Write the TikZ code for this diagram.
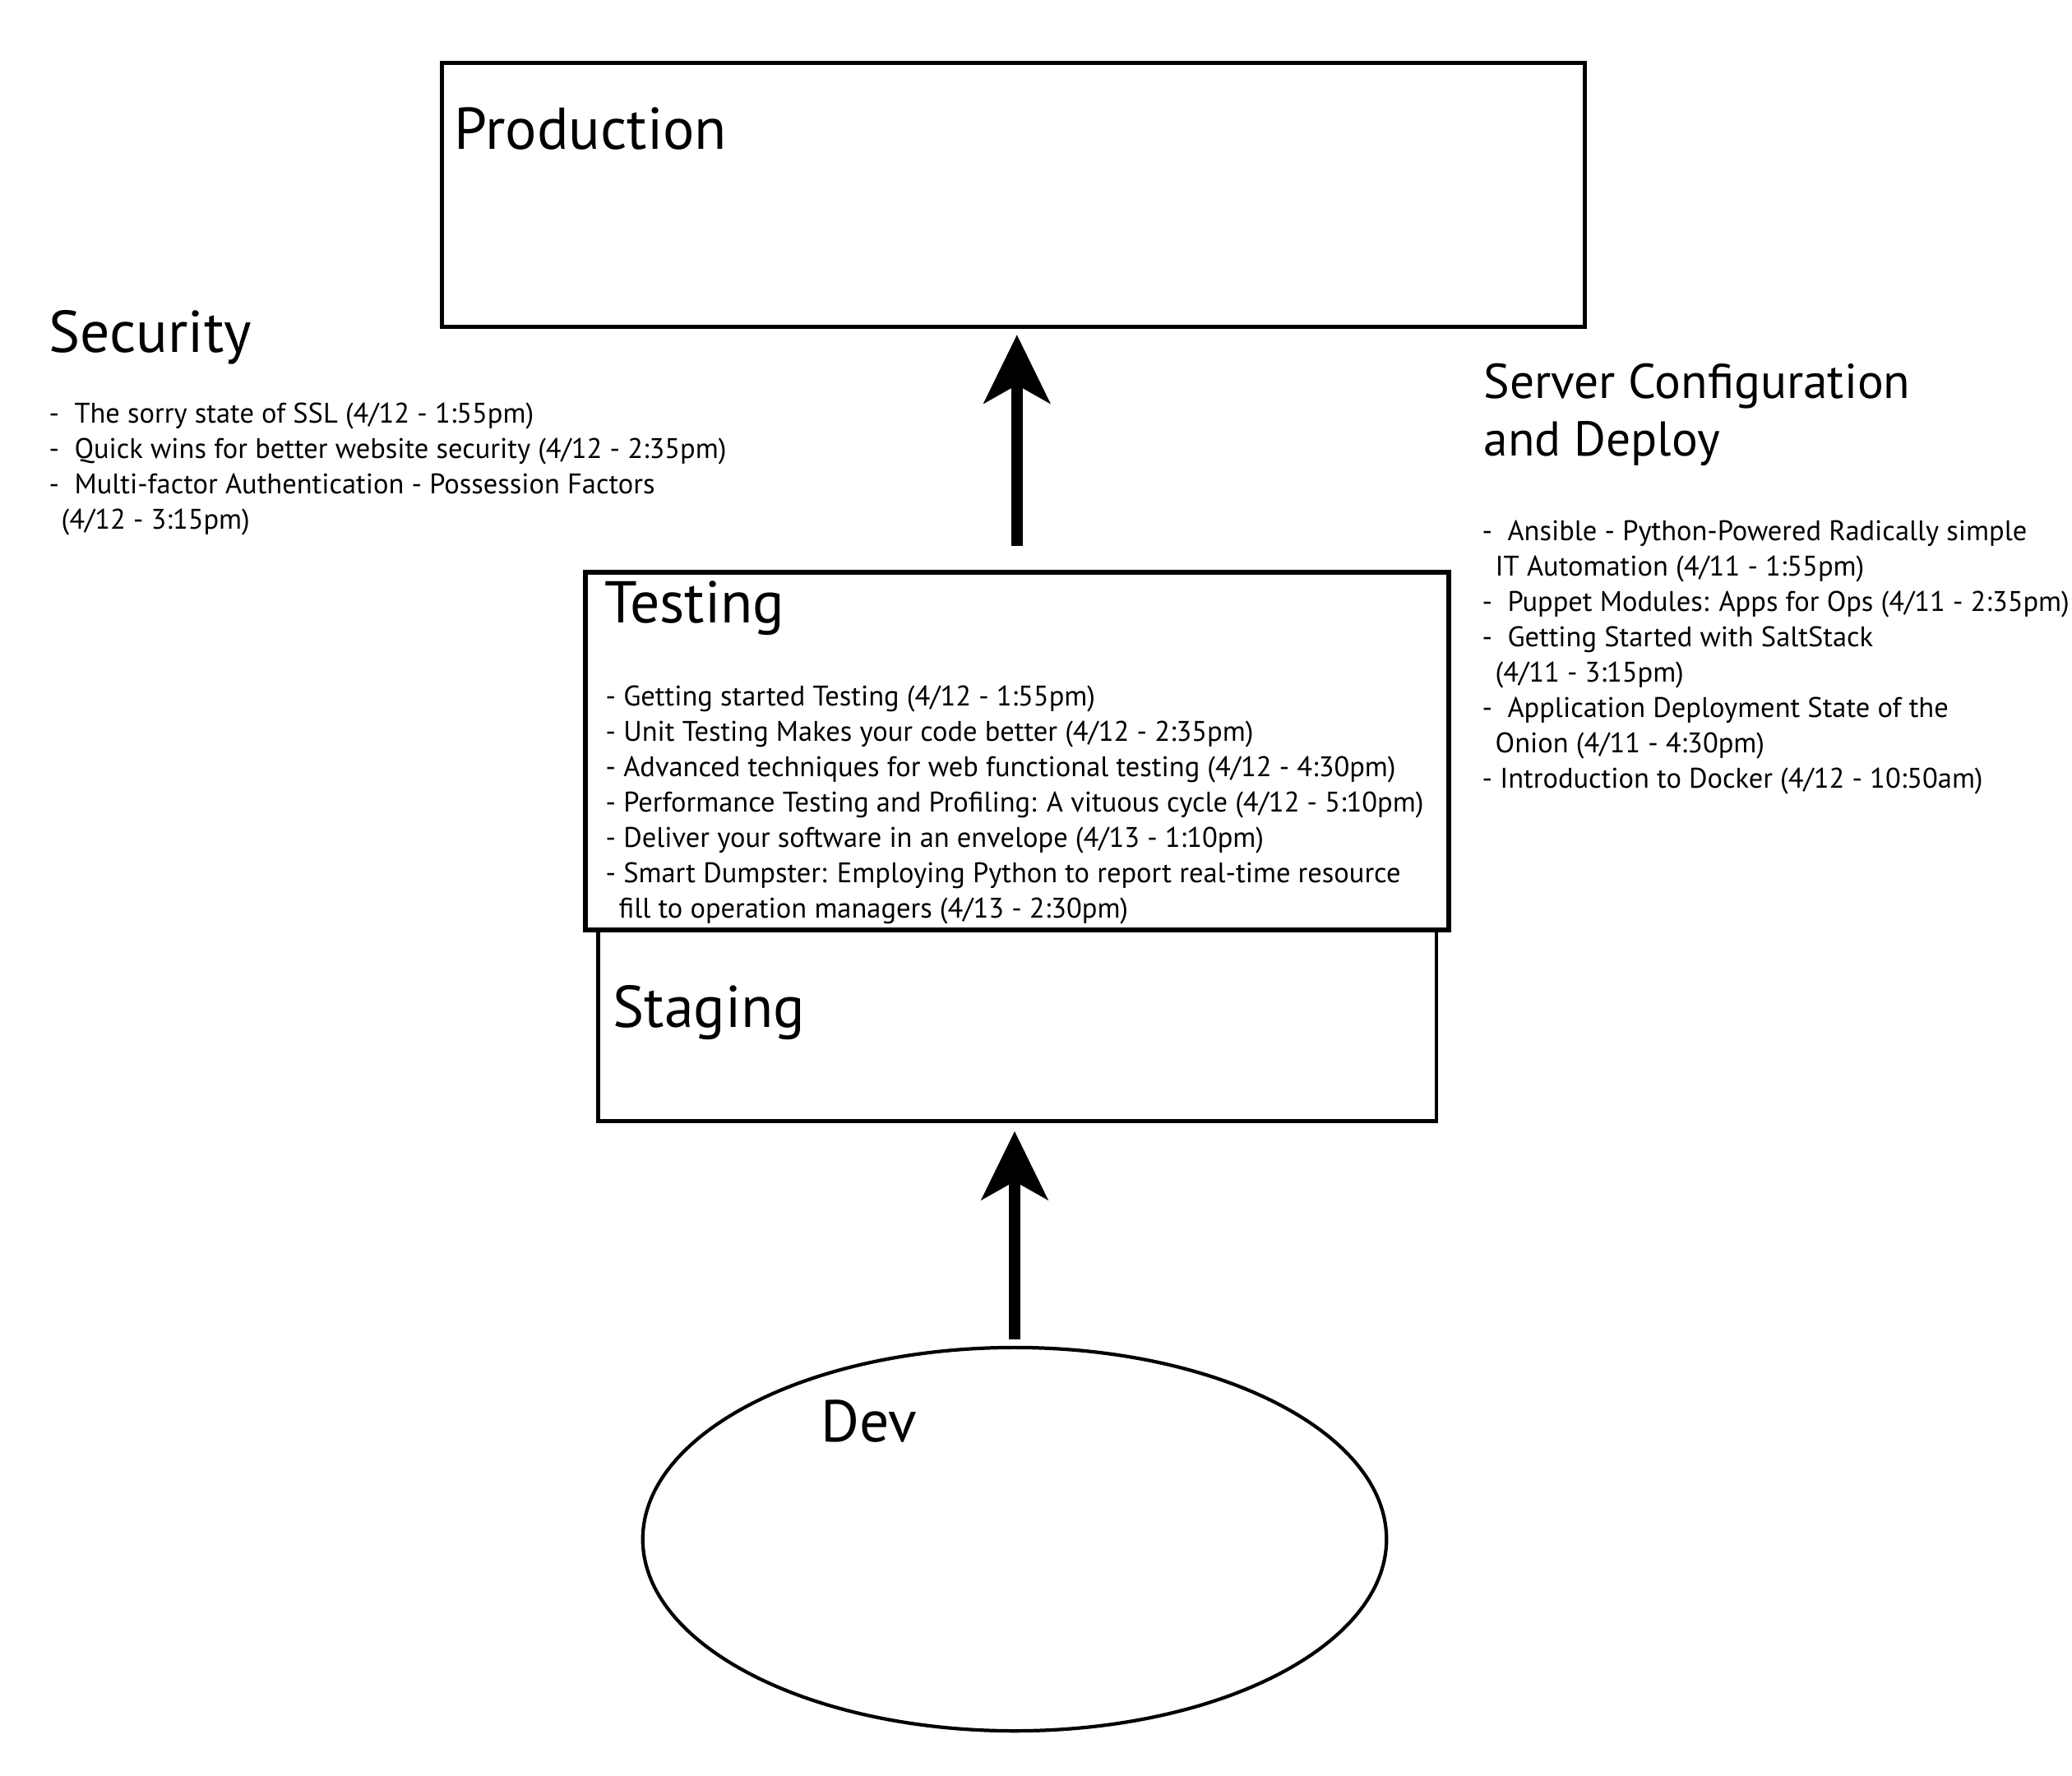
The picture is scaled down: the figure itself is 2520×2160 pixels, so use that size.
\documentclass[tikz,border=0pt]{standalone}
\usepackage{fontspec}
\setmainfont{PT Sans}
\usetikzlibrary{arrows.meta,shapes.geometric,positioning,calc}

\begin{document}
\begin{tikzpicture}[x=0.01cm,y=-0.01cm,>={Stealth[length=0.83cm,width=0.8cm,inset=0.22cm]}]

    % Styles
    \tikzset{
        stage/.style={draw=black, line width=1.4pt, inner sep=0pt, anchor=north west},
        heading/.style={anchor=base west, inner sep=0pt, font=\fontsize{20.4}{24}\selectfont},
        subheading/.style={anchor=base west, inner sep=0pt, font=\fontsize{16.9}{20}\selectfont},
        talk/.style={anchor=base west, inner sep=0pt, font=\fontsize{9.8}{12}\selectfont},
        promote/.style={->, line width=4pt}
    }

    % Page
    \useasboundingbox (0,0) rectangle (2520,2160);

    % Environments
    \node[stage, minimum width=13.89cm, minimum height=3.21cm] (prod) at (535,74) {};
    \node[stage, line width=1.7pt, minimum width=10.49cm, minimum height=4.35cm] (test) at (709,693) {};
    \node[stage, line width=1.3pt, minimum width=10.19cm, minimum height=2.33cm] (stag) at (725,1128) {};
    \node[draw=black, line width=1.2pt, ellipse, minimum width=9.04cm, minimum height=4.66cm] (dev) at (1234,1872) {};

    % Titles
    \node[heading] (prod-t) at (552,181) {Production};
    \node[heading] (test-t) at (735,757) {Testing};
    \node[heading] (stag-t) at (745,1249) {Staging};
    \node[heading] (dev-t) at (998,1753) {Dev};
    \node[heading] (sec-t) at (59,428) {Security};
    \node[subheading] (conf-t) at (1804,484) {Server Configuration};
    \node[subheading] (conf-t2) at (1804,554) {and Deploy};

    % Promotion arrows
    \draw[promote, shorten <=0.29cm, shorten >=0.07cm] (test.north) -- (test.north |- prod.south);
    \draw[promote, shorten <=0.08cm, shorten >=0.1cm] (dev.north) -- (dev.north |- stag.south);

    % Security talks
    \foreach \x/\y/\t [count=\i] in {
        59/514/{-\ \ The sorry state of SSL (4/12 - 1:55pm)},
        59/557/{-\ \ Quick wins for better website security (4/12 - 2:35pm)},
        59/600/{-\ \ Multi-factor Authentication - Possession Factors},
        74/643/{(4/12 - 3:15pm)}}
        \node[talk] (sec-\i) at (\x,\y) {\t};

    % Testing talks
    \foreach \x/\y/\t [count=\i] in {
        736/858/{- Getting started Testing (4/12 - 1:55pm)},
        736/901/{- Unit Testing Makes your code better (4/12 - 2:35pm)},
        736/944/{- Advanced techniques for web functional testing (4/12 - 4:30pm)},
        736/987/{- Performance Testing and Profiling: A vituous cycle (4/12 - 5:10pm)},
        736/1030/{- Deliver your software in an envelope (4/13 - 1:10pm)},
        736/1073/{- Smart Dumpster: Employing Python to report real-time resource},
        752/1116/{fill to operation managers (4/13 - 2:30pm)}}
        \node[talk] (test-\i) at (\x,\y) {\t};

    % Configuration talks
    \foreach \x/\y/\t [count=\i] in {
        1802/657/{-\ \ Ansible - Python-Powered Radically simple},
        1818/700/{IT Automation (4/11 - 1:55pm)},
        1802/743/{-\ \ Puppet Modules: Apps for Ops (4/11 - 2:35pm)},
        1802/786/{-\ \ Getting Started with SaltStack},
        1818/829/{(4/11 - 3:15pm)},
        1802/872/{-\ \ Application Deployment State of the},
        1818/915/{Onion (4/11 - 4:30pm)},
        1802/958/{- Introduction to Docker (4/12 - 10:50am)}}
        \node[talk] (conf-\i) at (\x,\y) {\t};

\end{tikzpicture}
\end{document}
